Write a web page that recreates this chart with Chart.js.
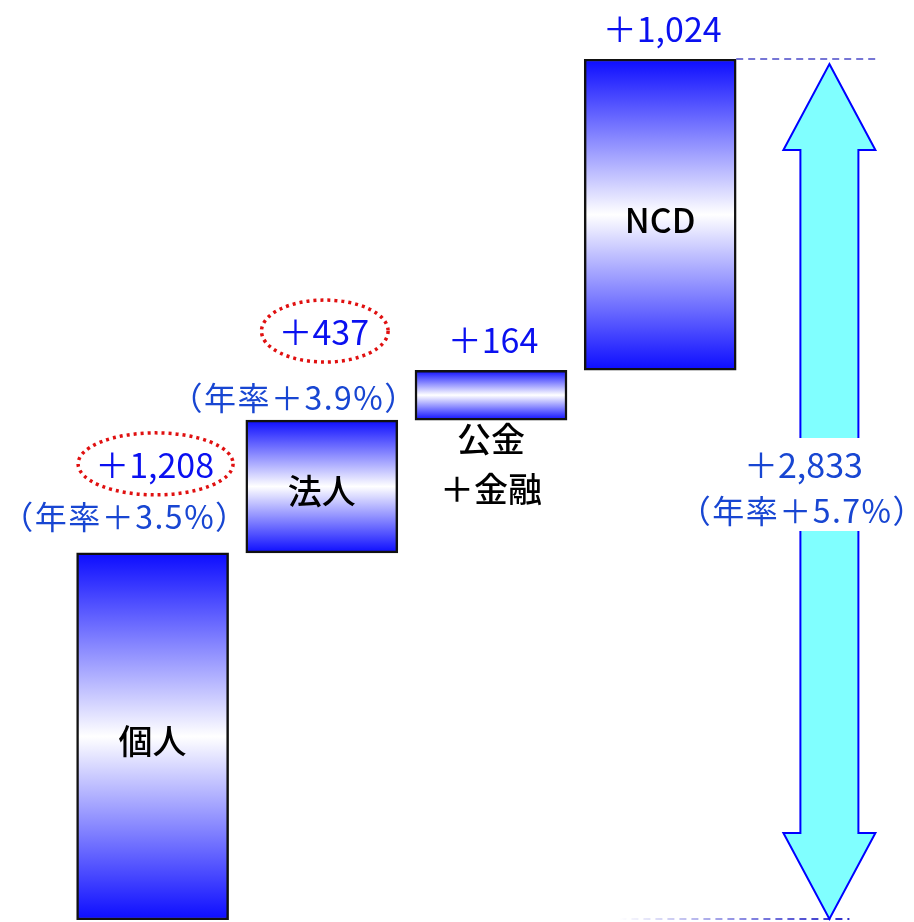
<!DOCTYPE html>
<html>
<head>
  <meta charset="utf-8">
  <title>預金増加の内訳</title>
  <script src="https://cdn.jsdelivr.net/npm/chart.js"></script>
  <style>
    html, body { margin: 0; padding: 0; background: #fff; }
    #wrap { width: 914px; height: 922px; }
  </style>
</head>
<body>
<div id="wrap"><canvas id="myChart"></canvas></div>
<script>
  // breakdown of the increase (億円)
  const categories = ['個人', '法人', '公金\n＋金融', 'NCD'];
  const increases = [1208, 437, 164, 1024];
  const annualRates = ['3.5', '3.9', null, null];
  const circled = [true, true, false, false];
  const totalLabel = '合計';
  const totalIncrease = 2833;
  const totalRate = '5.7';

  const VALUE_BLUE = '#0a10f0';
  const RATE_BLUE = '#1846d2';
  const JP_FONT = '"Noto Sans CJK JP", "Noto Sans", sans-serif';
  // distance of the rate line above each bar top
  const rateGap = [36, 22, 0, 0];

  // stack each bar on top of the previous ones
  const floating = [];
  let running = 0;
  increases.forEach(v => {
    floating.push([running, running + v]);
    running += v;
  });
  floating.push(null);

  function fmt(v) {
    return '＋' + v.toLocaleString('en-US');
  }

  function barGradient(context) {
    const chart = context.chart;
    const raw = context.raw;
    if (!chart.chartArea || !raw) return '#4040ff';
    const y = chart.scales.y;
    const top = y.getPixelForValue(raw[1]);
    const bottom = y.getPixelForValue(raw[0]);
    const g = chart.ctx.createLinearGradient(0, top, 0, bottom);
    g.addColorStop(0, '#0c0cff');
    g.addColorStop(0.5, '#ffffff');
    g.addColorStop(1, '#0c0cff');
    return g;
  }

  function rateText(r) {
    return '（年率＋' + r + '%）';
  }

  const overlay = {
    id: 'overlay',
    afterDatasetsDraw(chart) {
      const ctx = chart.ctx;
      const meta = chart.getDatasetMeta(0);
      const xs = chart.scales.x;
      const ys = chart.scales.y;
      ctx.save();
      ctx.textBaseline = 'middle';

      meta.data.forEach((bar, i) => {
        if (i >= increases.length) return;
        const top = bar.y;
        const bottom = bar.base;
        const half = bar.width / 2;

        // value + annual rate above the bar
        let valueY = top - 30;
        if (annualRates[i]) {
          valueY = top - 88;
          ctx.font = '32px ' + JP_FONT;
          ctx.letterSpacing = '1.5px';
          ctx.fillStyle = RATE_BLUE;
          ctx.textAlign = 'right';
          ctx.fillText(rateText(annualRates[i]), bar.x + half + 20, top - rateGap[i]);
          ctx.letterSpacing = '0px';
        }
        ctx.font = '34px ' + JP_FONT;
        ctx.fillStyle = VALUE_BLUE;
        ctx.textAlign = 'center';
        const label = fmt(increases[i]);
        ctx.fillText(label, bar.x + 2, valueY);

        if (circled[i]) {
          const w = ctx.measureText(label).width;
          ctx.save();
          ctx.strokeStyle = '#e01010';
          ctx.lineWidth = 3.5;
          ctx.setLineDash([3, 4]);
          ctx.beginPath();
          ctx.ellipse(bar.x + 3, valueY - 1, w / 2 + 18, 31, 0, 0, Math.PI * 2);
          ctx.stroke();
          ctx.restore();
        }

        // category name
        ctx.fillStyle = '#000';
        ctx.font = '500 34px ' + JP_FONT;
        const lines = categories[i].split('\n');
        if (lines.length > 1) {
          lines.forEach((l, k) => ctx.fillText(l, bar.x, bottom + 19 + k * 50));
        } else {
          ctx.fillText(lines[0], bar.x, (top + bottom) / 2 + 5);
        }
      });

      // dashed guide lines for the overall change
      const last = meta.data[increases.length - 1];
      const cx = xs.getPixelForValue(increases.length);
      const yTop = ys.getPixelForValue(totalIncrease);
      const yBot = ys.getPixelForValue(0);
      ctx.save();
      ctx.lineWidth = 1.5;
      ctx.setLineDash([7, 5]);
      ctx.strokeStyle = '#4a4ac8';
      ctx.beginPath();
      ctx.moveTo(last.x + last.width / 2, yTop);
      ctx.lineTo(cx + 46, yTop);
      ctx.stroke();
      const fade = ctx.createLinearGradient(cx - 210, 0, cx + 20, 0);
      fade.addColorStop(0, 'rgba(40,40,200,0)');
      fade.addColorStop(1, 'rgba(40,40,200,1)');
      ctx.strokeStyle = fade;
      ctx.lineWidth = 2;
      ctx.beginPath();
      ctx.moveTo(cx - 210, yBot - 1);
      ctx.lineTo(cx + 20, yBot - 1);
      ctx.stroke();
      ctx.restore();

      // double-headed arrow spanning the total
      const tipTop = yTop + 5;
      const tipBot = yBot - 1;
      const headH = 86, headW = 46, shaftW = 29;
      ctx.beginPath();
      ctx.moveTo(cx, tipTop);
      ctx.lineTo(cx + headW, tipTop + headH);
      ctx.lineTo(cx + shaftW, tipTop + headH);
      ctx.lineTo(cx + shaftW, tipBot - headH);
      ctx.lineTo(cx + headW, tipBot - headH);
      ctx.lineTo(cx, tipBot);
      ctx.lineTo(cx - headW, tipBot - headH);
      ctx.lineTo(cx - shaftW, tipBot - headH);
      ctx.lineTo(cx - shaftW, tipTop + headH);
      ctx.lineTo(cx - headW, tipTop + headH);
      ctx.closePath();
      ctx.fillStyle = '#80ffff';
      ctx.fill();
      ctx.strokeStyle = '#0000ff';
      ctx.lineWidth = 2;
      ctx.stroke();

      // total label box
      const midY = 485;
      ctx.fillStyle = '#fff';
      ctx.fillRect(cx - 40, midY - 47, 80, 93);
      ctx.textAlign = 'center';
      ctx.fillStyle = RATE_BLUE;
      ctx.font = '34px ' + JP_FONT;
      ctx.fillText(fmt(totalIncrease), cx - 26, midY - 20);
      ctx.font = '32px ' + JP_FONT;
      ctx.letterSpacing = '1.5px';
      ctx.fillText(rateText(totalRate), cx - 27, midY + 26);

      ctx.restore();
    }
  };

  new Chart(document.getElementById('myChart'), {
    type: 'bar',
    data: {
      labels: categories.concat([totalLabel]),
      datasets: [{
        data: floating,
        backgroundColor: barGradient,
        borderColor: '#111',
        borderWidth: 2.5,
        borderSkipped: false,
        barThickness: 152
      }]
    },
    options: {
      responsive: true,
      maintainAspectRatio: false,
      animation: false,
      layout: { padding: { top: 59, bottom: 2, left: 68, right: 0 } },
      plugins: { legend: { display: false }, tooltip: { enabled: false } },
      scales: {
        x: { display: false, grid: { display: false } },
        y: { display: false, min: 0, max: totalIncrease }
      }
    },
    plugins: [overlay]
  });
</script>
</body>
</html>
